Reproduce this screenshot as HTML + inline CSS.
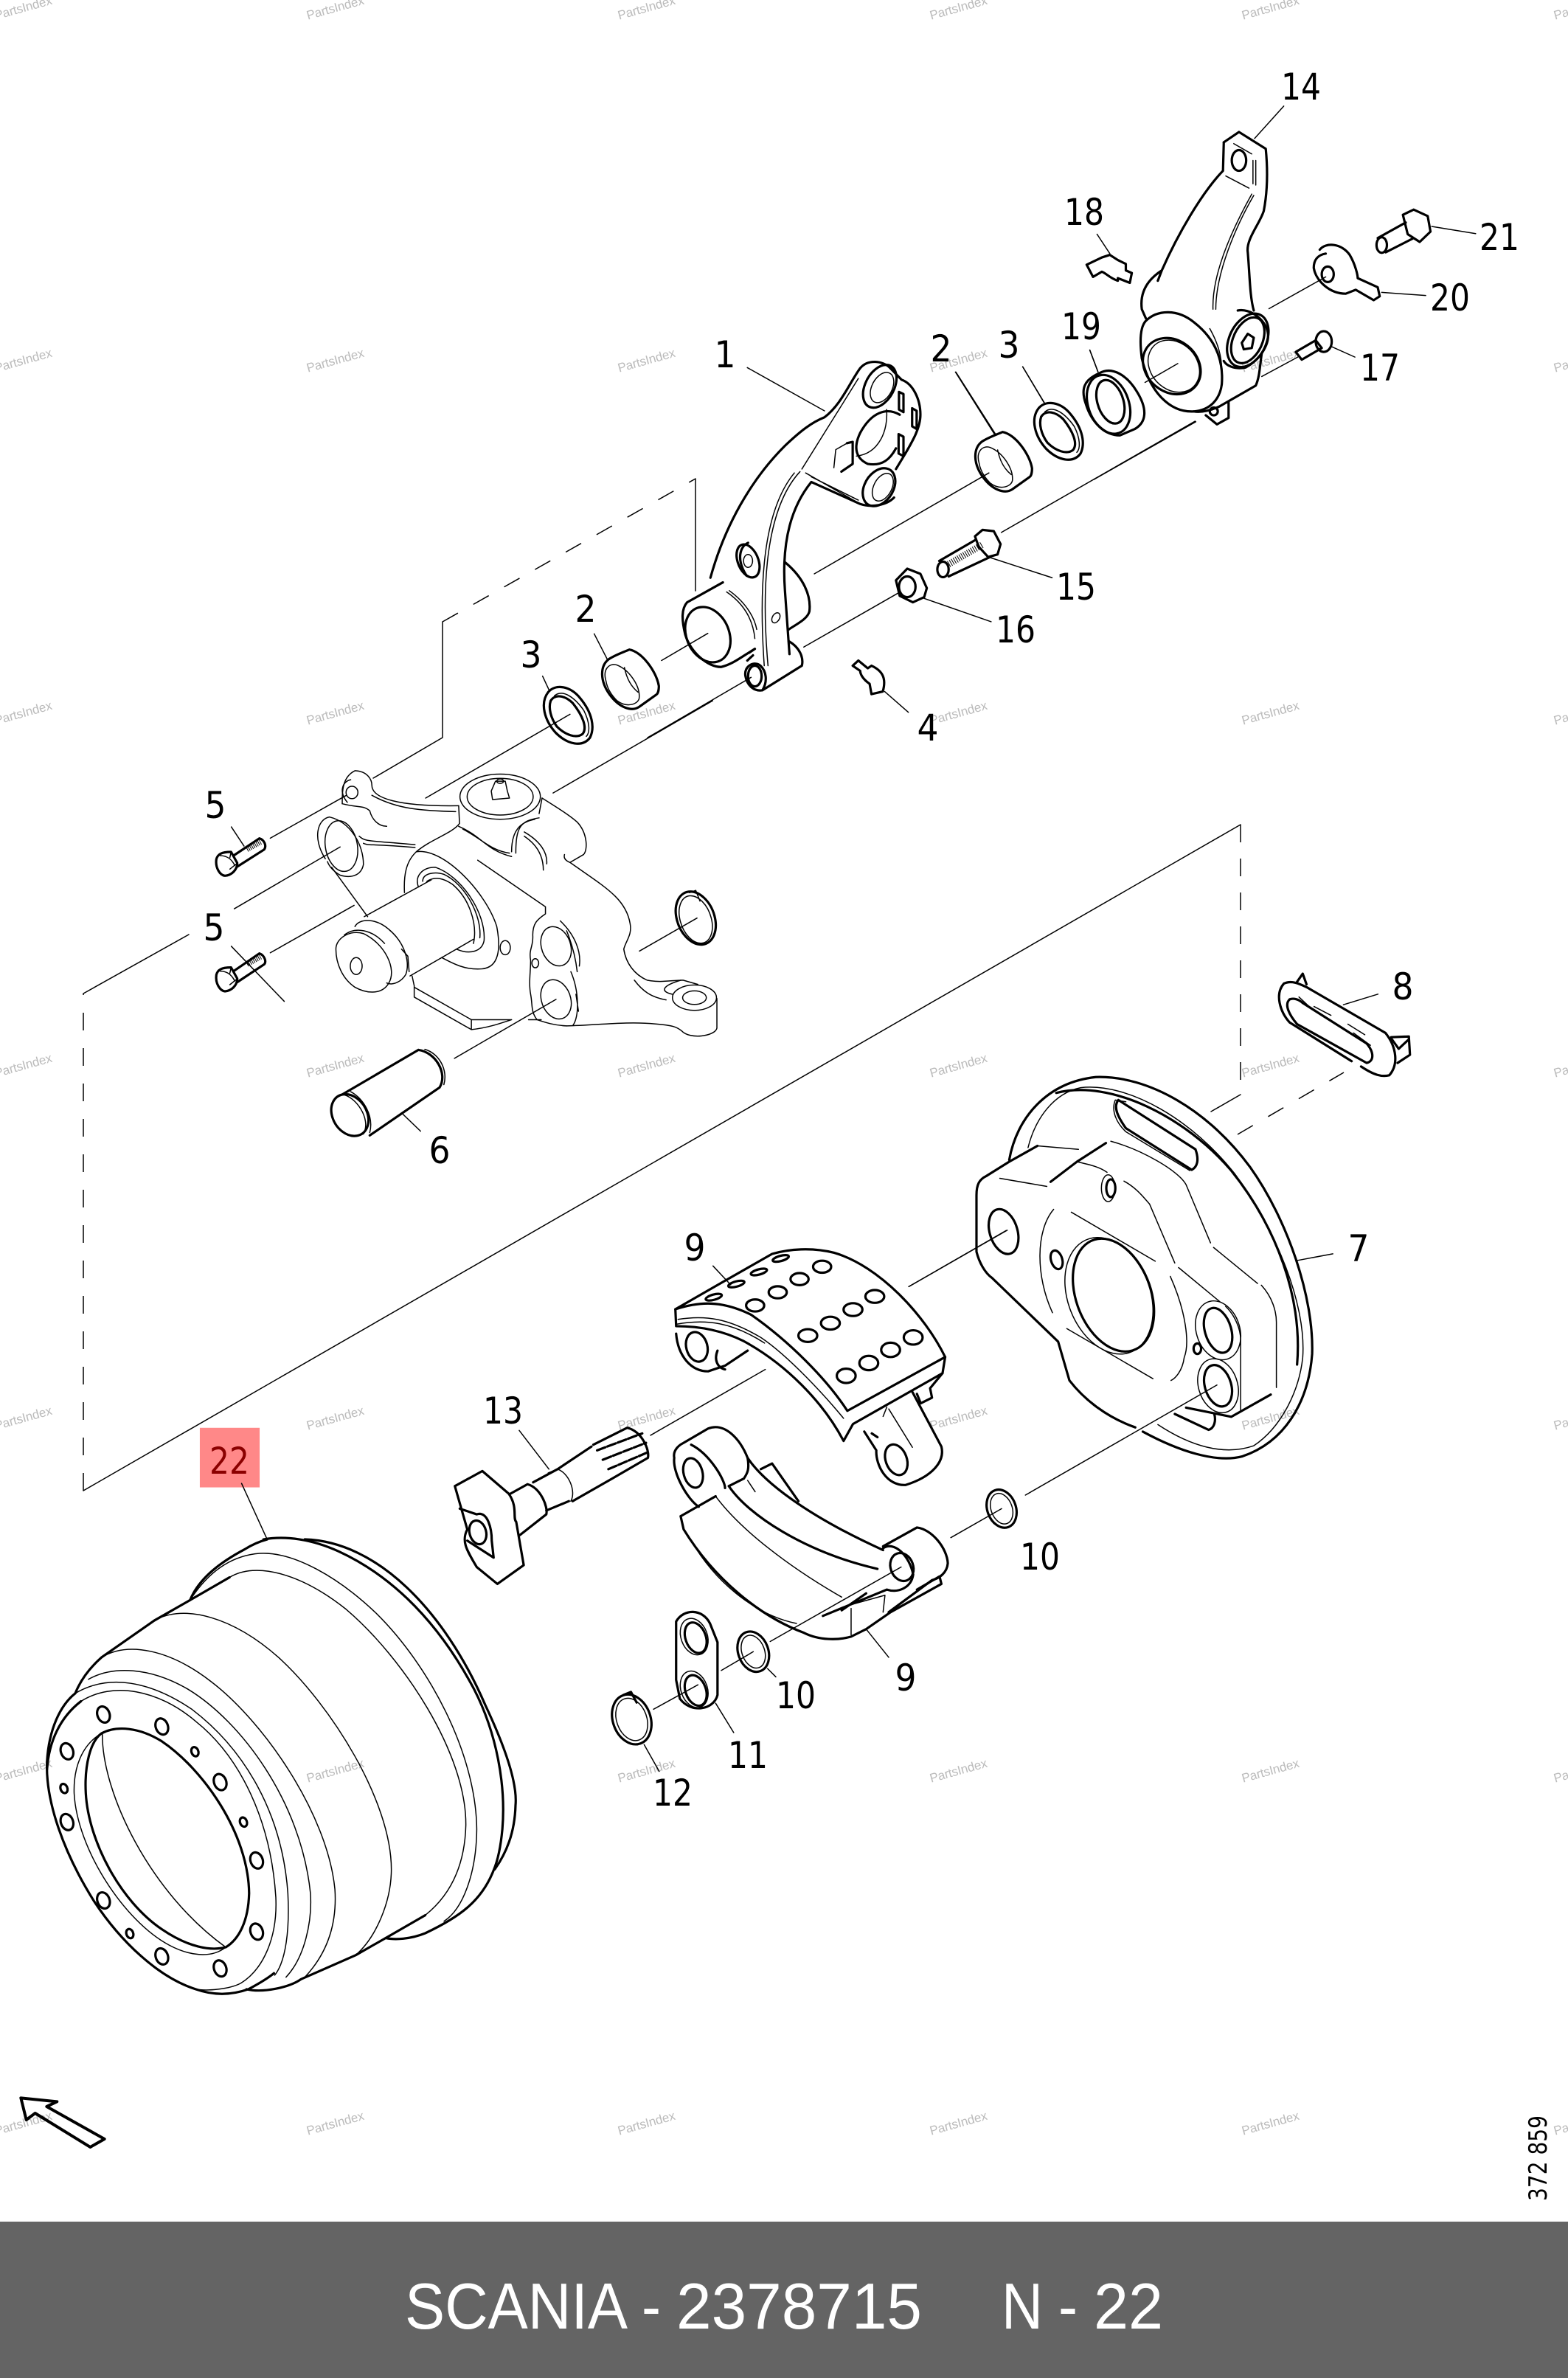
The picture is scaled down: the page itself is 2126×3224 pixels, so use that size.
<!DOCTYPE html>
<html><head><meta charset="utf-8"><style>
html,body{margin:0;padding:0;background:#fff}
svg{display:block}
path,line,ellipse,polyline{fill:none;stroke:#000;stroke-width:1.5;vector-effect:non-scaling-stroke;stroke-linecap:round;stroke-linejoin:round}
.t,.t *{stroke-width:3.2}
.lab text{font-family:"DejaVu Sans",sans-serif;font-size:50px;fill:#000;text-anchor:middle}
.wm text{font-family:"Liberation Sans",sans-serif;font-size:17px;fill:#bbb;text-anchor:middle}
</style></head><body>
<svg xmlns="http://www.w3.org/2000/svg" width="2126" height="3224" viewBox="0 0 2126 3224">
<rect width="2126" height="3224" fill="#fff"/>
<g class="wm" transform="translate(0,7)">
<text transform="translate(33,9) rotate(-15.5)" textLength="80">PartsIndex</text><text transform="translate(456,9) rotate(-15.5)" textLength="80">PartsIndex</text><text transform="translate(878,9) rotate(-15.5)" textLength="80">PartsIndex</text><text transform="translate(1301,9) rotate(-15.5)" textLength="80">PartsIndex</text><text transform="translate(1724,9) rotate(-15.5)" textLength="80">PartsIndex</text><text transform="translate(2147,9) rotate(-15.5)" textLength="80">PartsIndex</text>
<text transform="translate(33,487) rotate(-15.5)" textLength="80">PartsIndex</text><text transform="translate(456,487) rotate(-15.5)" textLength="80">PartsIndex</text><text transform="translate(878,487) rotate(-15.5)" textLength="80">PartsIndex</text><text transform="translate(1301,487) rotate(-15.5)" textLength="80">PartsIndex</text><text transform="translate(1724,487) rotate(-15.5)" textLength="80">PartsIndex</text><text transform="translate(2147,487) rotate(-15.5)" textLength="80">PartsIndex</text>
<text transform="translate(33,965) rotate(-15.5)" textLength="80">PartsIndex</text><text transform="translate(456,965) rotate(-15.5)" textLength="80">PartsIndex</text><text transform="translate(878,965) rotate(-15.5)" textLength="80">PartsIndex</text><text transform="translate(1301,965) rotate(-15.5)" textLength="80">PartsIndex</text><text transform="translate(1724,965) rotate(-15.5)" textLength="80">PartsIndex</text><text transform="translate(2147,965) rotate(-15.5)" textLength="80">PartsIndex</text>
<text transform="translate(33,1443) rotate(-15.5)" textLength="80">PartsIndex</text><text transform="translate(456,1443) rotate(-15.5)" textLength="80">PartsIndex</text><text transform="translate(878,1443) rotate(-15.5)" textLength="80">PartsIndex</text><text transform="translate(1301,1443) rotate(-15.5)" textLength="80">PartsIndex</text><text transform="translate(1724,1443) rotate(-15.5)" textLength="80">PartsIndex</text><text transform="translate(2147,1443) rotate(-15.5)" textLength="80">PartsIndex</text>
<text transform="translate(33,1921) rotate(-15.5)" textLength="80">PartsIndex</text><text transform="translate(456,1921) rotate(-15.5)" textLength="80">PartsIndex</text><text transform="translate(878,1921) rotate(-15.5)" textLength="80">PartsIndex</text><text transform="translate(1301,1921) rotate(-15.5)" textLength="80">PartsIndex</text><text transform="translate(1724,1921) rotate(-15.5)" textLength="80">PartsIndex</text><text transform="translate(2147,1921) rotate(-15.5)" textLength="80">PartsIndex</text>
<text transform="translate(33,2399) rotate(-15.5)" textLength="80">PartsIndex</text><text transform="translate(456,2399) rotate(-15.5)" textLength="80">PartsIndex</text><text transform="translate(878,2399) rotate(-15.5)" textLength="80">PartsIndex</text><text transform="translate(1301,2399) rotate(-15.5)" textLength="80">PartsIndex</text><text transform="translate(1724,2399) rotate(-15.5)" textLength="80">PartsIndex</text><text transform="translate(2147,2399) rotate(-15.5)" textLength="80">PartsIndex</text>
<text transform="translate(33,2877) rotate(-15.5)" textLength="80">PartsIndex</text><text transform="translate(456,2877) rotate(-15.5)" textLength="80">PartsIndex</text><text transform="translate(878,2877) rotate(-15.5)" textLength="80">PartsIndex</text><text transform="translate(1301,2877) rotate(-15.5)" textLength="80">PartsIndex</text><text transform="translate(1724,2877) rotate(-15.5)" textLength="80">PartsIndex</text><text transform="translate(2147,2877) rotate(-15.5)" textLength="80">PartsIndex</text>
</g>

<!-- frame lines in real coordinates -->
<line x1="113" y1="2021" x2="1682" y2="1118"/>
<line x1="113" y1="2021" x2="113" y2="1347" stroke-dasharray="24 24" style="stroke-linecap:butt"/>
<line x1="1682" y1="1118" x2="1682" y2="1484" stroke-dasharray="24 22" style="stroke-linecap:butt"/>
<line x1="1682" y1="1484" x2="1642" y2="1507"/>
<line x1="1678" y1="1538" x2="1822" y2="1454" stroke-dasharray="24 24" style="stroke-linecap:butt"/>
<line x1="113" y1="1347" x2="256" y2="1267"/>
<line x1="600" y1="843" x2="943" y2="649" stroke-dasharray="24 24" style="stroke-linecap:butt"/>
<polyline points="600,843 600,1000 506,1055"/>
<polyline points="943,649 943,801"/>

<!-- drum -->
<g transform="translate(0,1900) scale(.5102,.5421)">
<rect x="531" y="66" width="159" height="149" fill="#ff8888" style="stroke:none"/>
<line x1="642" y1="205" x2="710" y2="345"/>
<g class="t">
<path d="M810 345C1000 350 1180 520 1290 760C1350 880 1375 960 1370 1010C1368 1080 1345 1130 1315 1170"/>
<path d="M700 345C760 335 830 345 900 375C1050 440 1170 560 1260 720C1320 830 1345 960 1335 1070C1330 1120 1322 1150 1312 1172C1280 1250 1220 1290 1130 1330C1090 1345 1050 1347 1025 1342"/>
<path d="M1130 1285L1025 1342L945 1385L800 1445C770 1465 700 1480 655 1470"/>
<path d="M505 497C530 440 590 400 650 370C670 358 690 350 710 345"/>
<path d="M610 440L505 497L410 548L270 640C240 665 215 695 200 730"/>
<path d="M200 730C160 760 130 820 125 900C120 1000 170 1130 250 1250C320 1350 420 1440 520 1470C580 1490 630 1480 660 1470C690 1455 715 1440 728 1430"/>
<path d="M215 750C160 790 130 850 125 920"/>
<path d="M270 830C310 810 370 815 430 850C540 920 660 1080 662 1230C660 1300 635 1345 600 1365C560 1375 500 1365 430 1320C320 1250 235 1100 228 980C224 910 240 850 270 830Z"/>
<ellipse cx="275" cy="783" rx="16" ry="21" transform="rotate(-25 275 783)"/><ellipse cx="430" cy="813" rx="16" ry="21" transform="rotate(-25 430 813)"/><ellipse cx="585" cy="952" rx="16" ry="21" transform="rotate(-25 585 952)"/><ellipse cx="682" cy="1148" rx="16" ry="21" transform="rotate(-25 682 1148)"/><ellipse cx="682" cy="1326" rx="16" ry="21" transform="rotate(-25 682 1326)"/><ellipse cx="585" cy="1418" rx="16" ry="21" transform="rotate(-25 585 1418)"/><ellipse cx="430" cy="1388" rx="16" ry="21" transform="rotate(-25 430 1388)"/><ellipse cx="275" cy="1248" rx="16" ry="21" transform="rotate(-25 275 1248)"/><ellipse cx="178" cy="1052" rx="16" ry="21" transform="rotate(-25 178 1052)"/><ellipse cx="178" cy="875" rx="16" ry="21" transform="rotate(-25 178 875)"/>
<ellipse cx="518" cy="876" rx="9" ry="12" transform="rotate(-25 518 876)"/><ellipse cx="647" cy="1052" rx="9" ry="12" transform="rotate(-25 647 1052)"/><ellipse cx="345" cy="1331" rx="9" ry="12" transform="rotate(-25 345 1331)"/><ellipse cx="170" cy="968" rx="9" ry="12" transform="rotate(-25 170 968)"/>
</g>
<path d="M215 750C300 700 420 720 520 800C640 890 720 1050 733 1240C738 1340 700 1420 640 1455C610 1470 550 1475 520 1470"/>
<path d="M200 730C290 680 400 700 510 770C650 870 750 1030 765 1230C770 1320 760 1400 730 1435"/>
<path d="M235 695C300 660 400 665 500 720C640 800 800 1000 825 1230C830 1300 810 1390 760 1440"/>
<path d="M270 640C340 600 450 620 560 700C700 800 870 1030 890 1220C895 1290 880 1370 810 1440"/>
<path d="M410 548C490 505 620 540 740 640C880 760 1040 1000 1040 1170C1040 1250 1000 1340 945 1385"/>
<path d="M610 440C680 400 800 430 920 520C1070 640 1240 880 1238 1060C1235 1170 1190 1240 1130 1285"/>
<path d="M510 490C560 420 620 385 690 380C780 375 900 440 1000 530C1140 660 1265 880 1267 1070C1266 1180 1230 1270 1180 1300"/>
<path d="M270 830C215 860 195 920 197 980C205 1120 330 1300 450 1360C500 1385 560 1395 600 1365"/>
<path d="M272 830C270 980 400 1230 600 1365"/>
</g>

<!-- knuckle -->
<g transform="translate(200,950) scale(.574,.3827)">
<path d="M290 487L470 335M205 737L455 518M290 893L488 725M198 870L323 1065M198 447L228 515M657 345L998 48M958 327L1335 0M1162 887L1298 770M725 1267L965 1058M600 1460L645 1525"/>
<path d="M460 365C460 320 460 270 490 248C520 250 530 280 530 300C530 345 590 375 735 372"/>
<path d="M530 335C590 385 650 390 728 393"/>
<ellipse cx="483" cy="325" rx="14" ry="22"/><path d="M472 360C450 320 462 285 480 280"/>
<path d="M525 390C530 420 545 445 565 445M460 365C500 380 510 370 525 390"/>
<path d="M420 560C390 490 400 420 430 412C480 430 510 510 510 580C505 620 480 630 455 618C440 605 430 590 425 570"/>
<ellipse cx="458" cy="515" rx="38" ry="90" transform="rotate(-5 458 515)"/>
<path d="M500 480C515 500 520 495 632 510M510 505C525 515 520 505 632 520M435 590L520 765"/>
<ellipse cx="833" cy="340" rx="95" ry="80"/><ellipse cx="833" cy="340" rx="78" ry="65"/>
<path d="M735 372L737 435C720 470 670 490 635 535"/>
<path d="M822 285L845 285L850 320L855 345L815 350L812 320Z"/><ellipse cx="833" cy="285" rx="8" ry="8"/>
<path d="M932 345C980 390 1000 410 1015 430C1040 470 1040 530 1030 545L998 573C985 565 983 555 985 545"/>
<path d="M932 345L925 400M925 415C880 425 870 450 870 540M915 420C880 430 860 460 860 535M735 445C790 480 800 530 860 552M745 455C790 490 810 530 855 540"/>
<path d="M890 465C930 500 945 540 943 578M890 480C920 510 935 550 935 600"/>
<path d="M998 573C1080 660 1130 700 1140 790C1145 830 1130 850 1125 880C1130 930 1150 970 1180 990C1210 1000 1240 990 1265 990L1300 1005"/>
<ellipse cx="1292" cy="1052" rx="52" ry="45"/><ellipse cx="1292" cy="1052" rx="28" ry="24"/>
<path d="M1345 1055L1345 1160C1340 1190 1280 1200 1262 1170C1250 1155 1240 1150 1200 1145C1130 1135 1060 1150 990 1152M1225 1060C1190 1050 1170 1030 1150 990M1240 1040C1210 1030 1215 1010 1260 990"/>
<path d="M635 535C610 570 605 620 607 680M635 535C700 520 800 680 825 800C835 880 830 945 790 950C750 955 720 930 695 910"/>
<path d="M640 660C630 620 650 590 680 590C740 620 800 750 795 850C790 890 760 900 730 880M650 640C650 610 680 605 700 615C750 650 790 760 785 840M660 640C680 620 700 630 720 650C760 700 780 790 770 860"/>
<path d="M512 765L670 635M620 975L770 845M490 800C500 770 540 770 570 810C610 860 620 930 610 970C600 995 580 1010 565 1000"/>
<path d="M445 880C445 840 480 810 510 825C560 860 590 950 570 1000C555 1040 520 1040 490 1015C460 985 445 930 445 880Z"/>
<ellipse cx="493" cy="940" rx="14" ry="30"/>
<path d="M465 830C490 800 530 810 560 860M600 880L615 905L618 960"/>
<path d="M625 975L630 1010L630 1050L765 1165L765 1130L860 1130M630 1015L765 1130M765 1165C800 1160 830 1145 860 1130M900 1130L930 1130"/>
<path d="M780 565L940 730L940 755C920 775 910 790 910 830C912 870 900 880 905 920C905 960 900 1000 905 1040C910 1080 905 1100 920 1130C940 1140 960 1150 990 1152"/>
<path d="M975 780C1010 830 1025 890 1020 940M990 815C1005 870 1012 920 1015 960M1000 960C1020 1030 1020 1120 1005 1150M1012 1040L1018 1100"/>
<ellipse cx="965" cy="870" rx="35" ry="70" transform="rotate(-8 965 870)"/><ellipse cx="965" cy="1058" rx="35" ry="70" transform="rotate(-8 965 1058)"/><ellipse cx="916" cy="930" rx="8" ry="16"/><ellipse cx="845" cy="875" rx="12" ry="25"/>
<g class="t"><ellipse cx="1295" cy="770" rx="45" ry="95" transform="rotate(-10 1295 770)"/>
<ellipse cx="478" cy="1468" rx="42" ry="75" transform="rotate(-12 478 1468)"/>
<path d="M460 1395L640 1237M525 1540L690 1370M640 1237C680 1245 710 1320 690 1370"/></g>
<ellipse cx="1295" cy="775" rx="37" ry="85" transform="rotate(-10 1295 775)"/>
<path d="M1280 680L1295 672L1305 710"/>
<path d="M460 1395C490 1400 530 1480 510 1535M480 1385C510 1410 535 1470 525 1530M655 1235C690 1250 710 1310 700 1360"/>
</g>

<!-- bolts 5 -->
<g transform="translate(270,1110) scale(.3333)">
<g class="t"><path d="M70 165C75 145 90 135 130 135L155 180C155 210 130 230 105 232C85 230 65 200 70 165ZM140 150L245 80C265 85 275 110 265 125L155 195"/>
<path d="M70 635C75 615 90 605 130 605L155 650C155 680 130 700 105 702C85 700 65 670 70 635ZM140 620L245 548C265 555 275 580 265 592L155 665"/></g>
<path d="M85 150C110 150 130 160 145 190M130 135L125 158M150 185L125 205M85 620C110 620 130 630 145 660M130 605L125 628M150 655L125 675"/>
<line x1="195" y1="125" x2="250" y2="95" style="stroke-width:7;stroke-dasharray:1 1.5;stroke-linecap:butt"/>
<line x1="195" y1="592" x2="250" y2="562" style="stroke-width:7;stroke-dasharray:1 1.5;stroke-linecap:butt"/>
</g>

<!-- arm 1, bolts -->
<g transform="translate(850,450) scale(.5102,.3508)">
<path d="M320 138L525 305M873 155L978 398M1052 135L1110 275M1230 70L1252 155M498 935L962 545M995 775L1510 345M470 1218L720 1010M790 1030L968 1120M965 872L1130 950M685 1390L748 1470M92 1270L215 1165M55 1568L330 1335"/>
<path d="M475 545L620 665M490 560L615 650M465 530L615 180M460 540C390 650 350 880 375 1290M445 545C380 660 345 880 365 1290"/>
<path d="M690 300C695 380 670 470 610 480M265 1005C310 1050 335 1110 340 1185M272 1000C320 1050 340 1110 345 1150"/>
<path d="M550 525L555 455L585 430"/>
<ellipse cx="322" cy="885" rx="12" ry="25"/><ellipse cx="396" cy="1105" rx="10" ry="20" transform="rotate(15 396 1105)"/>
<ellipse cx="678" cy="215" rx="28" ry="60" transform="rotate(15 678 215)"/><ellipse cx="680" cy="600" rx="25" ry="55" transform="rotate(15 680 600)"/>
<g class="t">
<path d="M222 950C260 750 330 570 420 440C460 385 490 350 525 330C570 280 590 200 620 140C640 105 680 110 700 140L730 185C760 200 780 260 780 320C780 370 760 420 740 470L715 530"/>
<path d="M710 640C690 670 650 680 620 665L490 580C440 670 410 800 420 1000L432 1245"/>
<path d="M725 320C690 290 650 310 620 390C600 450 610 490 640 510C680 520 700 490 715 450"/>
<ellipse cx="672" cy="210" rx="40" ry="85" transform="rotate(15 672 210)"/><ellipse cx="670" cy="600" rx="40" ry="75" transform="rotate(15 670 600)"/>
<path d="M723 232L735 240L735 310L723 300ZM758 295L770 305L770 375L758 365ZM722 395L735 405L735 480L722 470ZM600 425L600 510L570 540M585 430L600 425"/>
<path d="M420 890C470 950 490 1020 485 1080C480 1110 450 1130 430 1150"/>
<path d="M255 968L160 1045C145 1070 145 1110 155 1170C170 1240 215 1295 250 1295C280 1285 300 1260 340 1225"/>
<ellipse cx="215" cy="1170" rx="58" ry="108" transform="rotate(-10 215 1170)"/>
<path d="M430 1195C460 1220 470 1260 465 1290L360 1385C340 1390 320 1370 315 1330C310 1290 340 1270 355 1290C370 1310 375 1350 360 1385"/>
<ellipse cx="340" cy="1330" rx="18" ry="40"/><path d="M325 1240L340 1225M320 1270L335 1250"/>
<path d="M318 942C290 880 300 830 322 815"/><ellipse cx="322" cy="885" rx="28" ry="65" transform="rotate(-12 322 885)"/>
<path d="M1255 160C1290 130 1330 170 1355 230C1385 300 1380 350 1350 375L1310 400C1270 400 1235 350 1220 280C1205 220 1215 185 1255 160"/>
<ellipse cx="1280" cy="280" rx="55" ry="115" transform="rotate(-10 1280 280)"/><ellipse cx="1285" cy="270" rx="35" ry="85" transform="rotate(-10 1285 270)"/>
<path d="M830 885L925 805M855 945L965 870"/><ellipse cx="840" cy="918" rx="15" ry="30"/>
<path d="M925 790L945 765L975 770L993 820L985 860L960 870L935 830Z"/>
<path d="M715 960L745 915L780 935L797 990L790 1025L760 1045L725 1020Z"/><ellipse cx="745" cy="985" rx="22" ry="40"/>
<path d="M600 1290L615 1270L640 1300L650 1290C680 1310 690 1340 680 1390L650 1400L645 1360C625 1340 620 1320 620 1310Z"/>
</g>
<line x1="850" y1="902" x2="945" y2="822" style="stroke-width:9;stroke-dasharray:1 2;stroke-linecap:butt"/>
</g>

<!-- bearings 2 and seals 3 (left set) -->
<g transform="translate(690,790) scale(.3333)">
<line x1="347" y1="208" x2="402" y2="315"/><line x1="137" y1="380" x2="165" y2="440"/>
<g class="t">
<path d="M405 312C430 295 460 285 490 272C540 280 600 360 610 420C610 440 605 452 600 455L530 505C500 525 450 510 410 455C370 400 370 340 405 312"/>
<path d="M160 445C190 410 250 420 290 470C340 530 350 590 330 630C300 670 240 660 190 610C145 560 125 490 160 445"/>
<path d="M170 480C190 450 230 460 260 490C300 540 320 590 300 615C275 635 230 620 195 585C170 550 160 510 170 480"/>
</g>
<path d="M395 400C380 350 410 325 440 335C490 355 535 420 530 470C525 495 480 510 440 480C415 455 400 430 395 400M470 345C480 395 500 425 525 445"/>
<path d="M185 460C220 430 270 470 305 520C330 570 330 610 315 625"/>
</g>
<!-- bearing 2 right -->
<g transform="translate(1196,495) scale(.3333)">
<g class="t"><path d="M405 312C430 295 460 285 490 272C540 280 600 360 610 420C610 440 605 452 600 455L530 505C500 525 450 510 410 455C370 400 370 340 405 312"/></g>
<path d="M395 400C380 350 410 325 440 335C490 355 535 420 530 470C525 495 480 510 440 480C415 455 400 430 395 400M470 345C480 395 500 425 525 445"/>
</g>
<!-- seal 3 right -->
<g transform="translate(1355,405) scale(.3333)">
<g class="t">
<path d="M160 445C190 410 250 420 290 470C340 530 350 590 330 630C300 670 240 660 190 610C145 560 125 490 160 445"/>
<path d="M170 480C190 450 230 460 260 490C300 540 320 590 300 615C275 635 230 620 195 585C170 550 160 510 170 480"/>
</g>
<path d="M185 460C220 430 270 470 305 520C330 570 330 610 315 625"/>
</g>

<!-- arm 14 -->
<g transform="translate(1250,100) scale(.5421,.3508)">
<path d="M905 125L832 250M438 620L470 695M1275 590L1385 618M1150 845L1260 857M1025 1055L1083 1095M868 908L1010 785M558 1193L640 1120M850 1170L940 1095M420 1068L440 1150M252 1132L305 1270M85 1153L185 1395M430 1568L685 1345"/>
<path d="M780 270L825 310M828 335L828 425M835 335L835 430M760 395L818 442M825 465C780 590 725 770 728 910M830 470C785 590 735 770 735 910M720 985C740 1040 750 1090 750 1150"/>
<ellipse cx="630" cy="1130" rx="62" ry="102" transform="rotate(-12 630 1130)"/>
<g class="t">
<path d="M755 265L793 225L860 290C865 370 865 450 855 530C845 580 810 640 815 690C820 780 820 860 830 915"/>
<path d="M755 265L753 375C700 460 640 620 600 760L590 800M600 760C560 800 545 850 550 910L560 945"/>
<ellipse cx="793" cy="335" rx="18" ry="40"/>
<path d="M560 955C590 910 640 910 680 960C730 1020 755 1100 750 1200C745 1260 720 1300 680 1305C620 1310 570 1230 550 1100C545 1040 545 980 560 955"/>
<ellipse cx="625" cy="1130" rx="70" ry="110" transform="rotate(-12 625 1130)" stroke-dasharray="300 80"/>
<path d="M850 1080C845 1130 845 1170 835 1205L745 1285C725 1300 700 1310 680 1305M710 1320L738 1355L767 1330L767 1270"/>
<ellipse cx="730" cy="1305" rx="10" ry="15"/>
<ellipse cx="815" cy="1030" rx="48" ry="105" transform="rotate(12 815 1030)"/><ellipse cx="815" cy="1030" rx="38" ry="90" transform="rotate(12 815 1030)"/>
<path d="M800 1040L815 1005L830 1020L825 1060L805 1065ZM790 915C820 905 860 950 865 1000C870 1040 850 1100 810 1135C780 1145 760 1125 755 1110"/>
<path d="M412 738L450 710L470 700L490 720L510 735L510 760L525 770L520 808L490 790L490 800C470 790 460 770 450 765L428 785Z"/>
<path d="M1203 545L1230 525L1265 550L1272 610L1245 650L1215 620ZM1140 635L1210 575M1160 690L1230 635"/>
<ellipse cx="1150" cy="662" rx="13" ry="30"/>
<path d="M995 680C1010 650 1050 655 1070 700C1085 740 1090 780 1090 790L1140 825L1145 860L1130 875L1085 835L1060 850C1020 850 985 800 980 750C980 720 990 700 1010 695"/>
<ellipse cx="1015" cy="775" rx="15" ry="30"/>
<path d="M935 1075L985 1030L1000 1060L950 1105Z"/><ellipse cx="1005" cy="1035" rx="20" ry="40"/>
</g>
</g>

<!-- backing plate + part 8 -->
<g transform="translate(1200,1300) scale(.5102,.4783)">
<path d="M65 928L322 770M373 1520L882 1208M1095 855L1190 836M1218 130L1310 100"/>
<path d="M514 540L405 530M305 622L430 645M600 517C680 540 780 600 800 640L865 805M873 818L990 920M510 575C550 585 570 590 590 605M635 630C670 650 690 680 703 695L770 862M780 875L890 972M758 900C800 1000 810 1090 795 1130C790 1170 770 1190 760 1195M495 718L718 857M483 1048L712 1190M448 710C400 770 400 900 445 1003"/>
<path d="M380 535C400 450 450 380 520 365C650 350 820 460 930 610C1040 770 1120 980 1110 1130C1100 1230 1050 1330 980 1380C900 1410 810 1380 725 1320"/>
<path d="M1000 925C1030 960 1040 1000 1040 1030L1040 1215M905 985C930 1010 945 1050 945 1080L945 1280"/>
<ellipse cx="595" cy="955" rx="110" ry="170" transform="rotate(-18 595 955)"/>
<ellipse cx="885" cy="1053" rx="58" ry="85" transform="rotate(-15 885 1053)"/>
<ellipse cx="885" cy="1210" rx="52" ry="78" transform="rotate(-15 885 1210)"/>
<path d="M640 405L612 400C600 430 615 465 640 490L810 600"/>
<ellipse cx="593" cy="650" rx="18" ry="38"/>
<path d="M1100 108L1130 138M1140 135L1185 160M1230 185L1275 215M1245 210L1290 245"/>
<g class="t">
<path d="M330 570C350 450 430 350 560 335C700 330 860 430 970 590C1070 740 1140 960 1135 1120C1125 1260 1060 1370 950 1410C880 1430 780 1395 685 1340"/>
<path d="M455 380C600 340 800 450 920 600C1040 760 1110 960 1095 1150"/>
<path d="M270 615L330 575L405 530M510 575L587 522M440 632L510 575"/>
<path d="M270 615C250 625 243 640 243 670L243 830C250 860 265 890 285 905L460 1085L490 1195C530 1250 590 1300 665 1328"/>
<path d="M1025 1235L920 1298L800 1272M770 1290L860 1335C875 1330 880 1310 875 1290"/>
<path d="M620 400L825 540C835 570 830 590 815 598L640 480C620 450 605 420 620 400Z"/>
<ellipse cx="607" cy="953" rx="100" ry="165" transform="rotate(-18 607 953)"/>
<ellipse cx="315" cy="773" rx="37" ry="65" transform="rotate(-15 315 773)"/>
<ellipse cx="456" cy="853" rx="15" ry="27" transform="rotate(-15 456 853)"/>
<ellipse cx="600" cy="650" rx="12" ry="25"/>
<ellipse cx="885" cy="1053" rx="35" ry="65" transform="rotate(-15 885 1053)"/>
<ellipse cx="885" cy="1210" rx="35" ry="60" transform="rotate(-15 885 1210)"/>
<ellipse cx="830" cy="1105" rx="10" ry="15"/>
<path d="M1060 70C1080 60 1100 70 1120 80L1330 210C1360 250 1365 300 1340 330C1320 335 1300 330 1265 305M1240 290L1075 180C1050 150 1035 100 1060 70"/>
<path d="M1075 115C1085 110 1100 115 1110 125L1280 240C1300 265 1300 290 1280 295L1095 185C1075 160 1060 130 1075 115"/>
<path d="M1095 65L1110 42L1120 72M1345 222L1392 220L1395 272L1362 295M1345 225L1365 255L1390 230"/>
</g>
</g>

<!-- shoes, shaft, small parts -->
<g transform="translate(580,1650) scale(.5102)">
<path d="M758 130L805 180M1278 185L1540 35M592 580L897 405M243 567L322 670M1165 1095L1225 1170M765 1292L813 1370M903 1200L925 1222M575 1402L615 1473M910 1128L1258 930M1390 852L1525 775M780 1205L865 1155M600 1308L718 1243M1125 1040L1125 1110"/>
<path d="M665 272C740 260 800 270 885 320C960 370 1060 480 1105 535M660 285C740 270 810 280 895 335M1225 510L1288 612M1210 530L1220 505M765 742C830 830 960 930 1100 1010M700 860C770 980 880 1060 980 1080M850 700L870 730M1125 1030L1215 1005L1210 1050"/>
<ellipse cx="865" cy="1155" rx="30" ry="45" transform="rotate(-20 865 1155)"/><ellipse cx="1525" cy="775" rx="28" ry="42" transform="rotate(-20 1525 775)"/>
<ellipse cx="542" cy="1335" rx="40" ry="58" transform="rotate(-20 542 1335)"/>
<ellipse cx="708" cy="1115" rx="35" ry="50" transform="rotate(-20 708 1115)"/><ellipse cx="708" cy="1255" rx="35" ry="50" transform="rotate(-20 708 1255)"/>
<path d="M320 680L345 670C375 680 395 730 380 755"/>
<g class="t">
<path d="M658 245L780 175L915 98C960 85 1020 80 1080 95C1200 130 1320 260 1375 372L1368 415L1130 550L1105 595C1050 490 950 390 840 330C770 295 700 290 660 290Z"/>
<path d="M658 245C720 225 780 220 860 260C960 330 1060 430 1115 515L1375 372"/>
<ellipse cx="870" cy="235" rx="24" ry="16"/><ellipse cx="930" cy="200" rx="24" ry="16"/><ellipse cx="988" cy="165" rx="24" ry="16"/><ellipse cx="1048" cy="132" rx="24" ry="16"/>
<ellipse cx="1010" cy="315" rx="25" ry="17"/><ellipse cx="1070" cy="282" rx="25" ry="17"/><ellipse cx="1130" cy="246" rx="25" ry="17"/><ellipse cx="1188" cy="211" rx="25" ry="17"/>
<ellipse cx="1112" cy="422" rx="25" ry="19"/><ellipse cx="1172" cy="388" rx="25" ry="19"/><ellipse cx="1230" cy="353" rx="25" ry="19"/><ellipse cx="1290" cy="320" rx="25" ry="19"/>
<ellipse cx="760" cy="213" rx="22" ry="7" transform="rotate(-15 760 213)"/><ellipse cx="820" cy="178" rx="22" ry="7" transform="rotate(-15 820 178)"/><ellipse cx="880" cy="146" rx="22" ry="7" transform="rotate(-15 880 146)"/><ellipse cx="938" cy="110" rx="22" ry="7" transform="rotate(-15 938 110)"/>
<path d="M660 310C665 370 700 410 745 410L790 395L850 355M770 355C760 380 770 400 790 405"/>
<ellipse cx="715" cy="345" rx="28" ry="40" transform="rotate(-15 715 345)"/>
<path d="M1288 465L1365 610C1375 650 1340 690 1270 712C1220 715 1190 660 1192 620L1160 570M1180 575L1195 585M1300 470L1310 495L1340 480L1335 455L1368 415"/>
<ellipse cx="1245" cy="645" rx="28" ry="42" transform="rotate(-20 1245 645)"/>
<path d="M680 600L745 562C790 545 830 590 850 640C855 670 850 680 840 695L800 715M655 640C650 680 690 750 720 770M700 605C750 630 790 700 790 720M680 600C660 610 652 625 655 640"/>
<ellipse cx="705" cy="680" rx="25" ry="40" transform="rotate(-15 705 680)"/>
<path d="M850 640C890 700 1000 790 1210 885M800 715C850 790 1000 890 1195 935M915 655L985 755M885 670L915 655"/>
<path d="M672 795L765 742M672 795L680 830C760 960 880 1060 1000 1105C1040 1125 1090 1125 1125 1115L1165 1095L1230 1050L1365 975L1360 955L1300 990"/>
<path d="M1210 875L1300 825C1340 830 1380 880 1382 920C1380 945 1360 960 1340 965L1225 1050"/>
<path d="M1210 880C1240 860 1280 900 1290 950C1285 985 1250 1000 1220 990L1050 1060M1100 1045L1165 1000"/>
<ellipse cx="1260" cy="930" rx="30" ry="38" transform="rotate(-20 1260 930)"/>
<path d="M72 715L145 675L215 735C240 770 225 800 235 810L255 925L185 975L130 930C100 880 90 860 105 830L72 715ZM85 775L130 790C160 780 170 830 170 860L175 905L105 860"/>
<ellipse cx="133" cy="838" rx="22" ry="32" transform="rotate(-15 133 838)"/>
<path d="M220 735L265 710C300 720 320 770 315 790L245 845M280 705L345 670M315 780L375 755M345 670L435 610M385 755L490 695M440 605L530 560C570 570 590 620 585 640L490 695"/>
<path d="M450 620L570 575M465 645L580 600M480 670L585 625" stroke-dasharray="12 3"/>
<path d="M660 1075C680 1040 730 1040 750 1080L770 1130L770 1270C760 1310 700 1320 670 1280L660 1230Z"/>
<ellipse cx="712" cy="1118" rx="27" ry="42" transform="rotate(-20 712 1118)"/><ellipse cx="712" cy="1258" rx="27" ry="42" transform="rotate(-20 712 1258)"/>
<ellipse cx="865" cy="1155" rx="40" ry="55" transform="rotate(-20 865 1155)"/><ellipse cx="1525" cy="775" rx="38" ry="52" transform="rotate(-20 1525 775)"/>
<ellipse cx="542" cy="1335" rx="50" ry="68" transform="rotate(-20 542 1335)"/>
<path d="M520 1270L540 1262L555 1290"/>
</g>
</g>

<!-- view arrow -->
<g transform="translate(0,2750) scale(.3333)"><path d="M85 283L232 298L190 318L425 450L367 483L143 345L107 372Z" style="stroke-width:4"/></g>

<!-- labels -->
<g class="lab">
<text x="311" y="1998" textLength="54" lengthAdjust="spacingAndGlyphs" style="fill:#8b0000">22</text>
<text x="682" y="1930" textLength="54" lengthAdjust="spacingAndGlyphs">13</text>
<text x="942" y="1709" textLength="29" lengthAdjust="spacingAndGlyphs">9</text>
<text x="1228" y="2292" textLength="29" lengthAdjust="spacingAndGlyphs">9</text>
<text x="1079" y="2316" textLength="54" lengthAdjust="spacingAndGlyphs">10</text>
<text x="1410" y="2128" textLength="54" lengthAdjust="spacingAndGlyphs">10</text>
<text x="1014" y="2397" textLength="54" lengthAdjust="spacingAndGlyphs">11</text>
<text x="912" y="2448" textLength="54" lengthAdjust="spacingAndGlyphs">12</text>
<text x="1842" y="1710" textLength="29" lengthAdjust="spacingAndGlyphs">7</text>
<text x="1902" y="1355" textLength="29" lengthAdjust="spacingAndGlyphs">8</text>
<text x="983" y="498" textLength="29" lengthAdjust="spacingAndGlyphs">1</text>
<text x="1276" y="490" textLength="29" lengthAdjust="spacingAndGlyphs">2</text>
<text x="1368" y="485" textLength="29" lengthAdjust="spacingAndGlyphs">3</text>
<text x="1459" y="813" textLength="54" lengthAdjust="spacingAndGlyphs">15</text>
<text x="1377" y="871" textLength="54" lengthAdjust="spacingAndGlyphs">16</text>
<text x="1258" y="1004" textLength="29" lengthAdjust="spacingAndGlyphs">4</text>
<text x="1764" y="135" textLength="54" lengthAdjust="spacingAndGlyphs">14</text>
<text x="1470" y="305" textLength="54" lengthAdjust="spacingAndGlyphs">18</text>
<text x="1466" y="460" textLength="54" lengthAdjust="spacingAndGlyphs">19</text>
<text x="2033" y="339" textLength="54" lengthAdjust="spacingAndGlyphs">21</text>
<text x="1966" y="421" textLength="54" lengthAdjust="spacingAndGlyphs">20</text>
<text x="1871" y="516" textLength="54" lengthAdjust="spacingAndGlyphs">17</text>
<text x="292" y="1109" textLength="29" lengthAdjust="spacingAndGlyphs">5</text>
<text x="290" y="1275" textLength="29" lengthAdjust="spacingAndGlyphs">5</text>
<text x="596" y="1577" textLength="29" lengthAdjust="spacingAndGlyphs">6</text>
<text x="794" y="843" textLength="29" lengthAdjust="spacingAndGlyphs">2</text>
<text x="720" y="905" textLength="29" lengthAdjust="spacingAndGlyphs">3</text>
</g>
<text transform="translate(2097,2984) rotate(-90)" font-family="DejaVu Sans,sans-serif" font-size="34" textLength="116" lengthAdjust="spacingAndGlyphs">372 859</text>

<!-- footer -->
<rect x="0" y="3012" width="2126" height="212" fill="#646464"/>
<g font-family="Liberation Sans,sans-serif" font-size="88" fill="#fff">
<text x="549" y="3157" textLength="302" lengthAdjust="spacingAndGlyphs">SCANIA</text>
<text x="870" y="3157" textLength="26" lengthAdjust="spacingAndGlyphs">-</text>
<text x="917" y="3157" textLength="333" lengthAdjust="spacingAndGlyphs">2378715</text>
<text x="1358" y="3157" textLength="56" lengthAdjust="spacingAndGlyphs">N</text>
<text x="1435" y="3157" textLength="26" lengthAdjust="spacingAndGlyphs">-</text>
<text x="1483" y="3157" textLength="94" lengthAdjust="spacingAndGlyphs">22</text>
</g>
</svg>
</body></html>
